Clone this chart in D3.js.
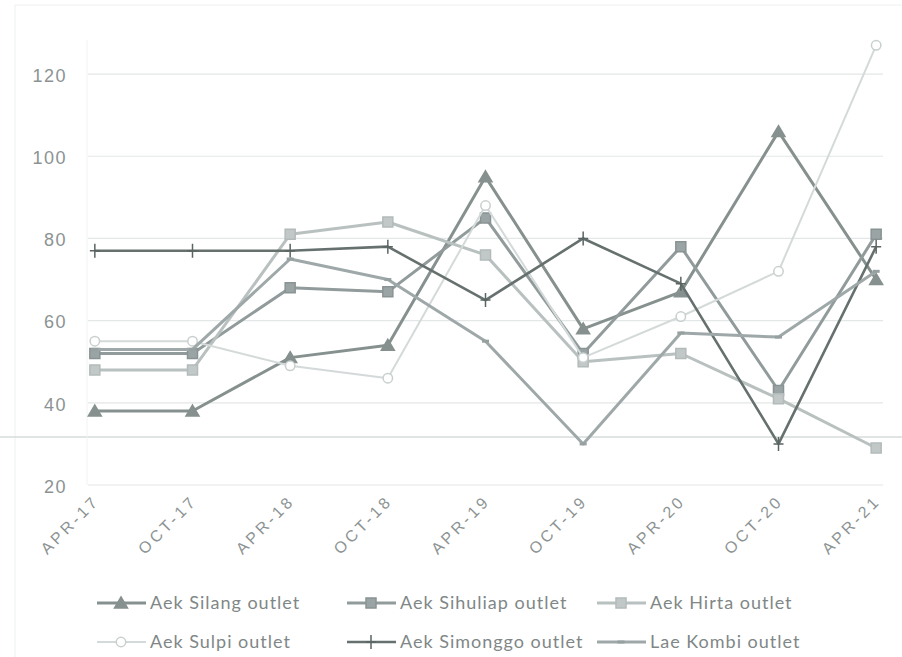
<!DOCTYPE html>
<html>
<head>
<meta charset="utf-8">
<script src="https://cdn.jsdelivr.net/npm/d3@7"></script>
<style>
  html, body { margin: 0; padding: 0; background: #fff; }
  svg { display: block; font-family: Lato, "Open Sans", sans-serif; }
</style>
</head>
<body>
<svg id="chart" width="902" height="657"></svg>
<script>
// Sampling dates
const categories = ["APR-17","OCT-17","APR-18","OCT-18","APR-19","OCT-19","APR-20","OCT-20","APR-21"];

// Measured values per outlet
const aekSilang   = [38, 38, 51, 54, 95, 58, 67, 106, 70];
const aekSihuliap = [52, 52, 68, 67, 85, 52, 78, 43, 81];
const aekHirta    = [48, 48, 81, 84, 76, 50, 52, 41, 29];
const aekSulpi    = [55, 55, 49, 46, 88, 51, 61, 72, 127];
const aekSimonggo = [77, 77, 77, 78, 65, 80, 69, 30, 78];
const laeKombi    = [53, 53, 75, 70, 55, 30, 57, 56, 72];

const yTicks = [20, 40, 60, 80, 100, 120];

const seriesNames = ["Aek Silang outlet","Aek Sihuliap outlet","Aek Hirta outlet",
                     "Aek Sulpi outlet","Aek Simonggo outlet","Lae Kombi outlet"];
const seriesValues = [aekSilang, aekSihuliap, aekHirta, aekSulpi, aekSimonggo, laeKombi];

// Appearance of each series: line colour, width, marker
const styles = [
  { color: "#86918f", width: 3,   marker: "triangle", fill: "#86918f", stroke: "#86918f" },
  { color: "#929b9b", width: 3,   marker: "square",   fill: "#9ba4a4", stroke: "#8a9393" },
  { color: "#b9c0c0", width: 3,   marker: "square",   fill: "#c2c8c8", stroke: "#b3baba" },
  { color: "#d4d9d9", width: 2,   marker: "circle",   fill: "#ffffff", stroke: "#c9cfcf" },
  { color: "#66716f", width: 2.6, marker: "plus",     fill: "none",    stroke: "#5a6563" },
  { color: "#9fa8a8", width: 3,   marker: "dash",     fill: "none",    stroke: "#97a0a0" }
];

const svg = d3.select("#chart");

const x = d3.scalePoint().domain(categories).range([88, 883]).padding(0.07);
const y = d3.scaleLinear().domain([20, 130]).range([485, 33]);

// Faint chart frame edges
svg.append("line").attr("x1", 15).attr("x2", 902).attr("y1", 5).attr("y2", 5)
  .attr("stroke", "#eef0f0").attr("stroke-width", 1);
svg.append("line").attr("x1", 15).attr("x2", 15).attr("y1", 5).attr("y2", 657)
  .attr("stroke", "#eef0f0").attr("stroke-width", 1);

// Horizontal gridlines
svg.append("g")
  .selectAll("line")
  .data(yTicks)
  .join("line")
  .attr("x1", 88).attr("x2", 883)
  .attr("y1", d => y(d)).attr("y2", d => y(d))
  .attr("stroke", "#e4e7e7").attr("stroke-width", 1.2);

// Faint fold line across the sheet
svg.append("line").attr("x1", 0).attr("x2", 902).attr("y1", 437).attr("y2", 437)
  .attr("stroke", "#d6dbdb").attr("stroke-width", 1.3);

// Faint plot-area left edge
svg.append("line").attr("x1", 87).attr("x2", 87).attr("y1", 40).attr("y2", 485)
  .attr("stroke", "#f0f2f2").attr("stroke-width", 1);

// Y axis labels
const yAxis = svg.append("g")
  .attr("transform", "translate(87,0)")
  .call(d3.axisLeft(y).tickValues(yTicks).tickSize(0).tickPadding(20));
yAxis.select(".domain").remove();
yAxis.selectAll("text")
  .attr("fill", "#8c9393")
  .style("font-size", "18px")
  .style("letter-spacing", "1.5px")
  .attr("dy", "0.4em");

// X axis labels, rotated
const xAxis = svg.append("g")
  .attr("transform", "translate(0,485)")
  .call(d3.axisBottom(x).tickSize(0));
xAxis.select(".domain").remove();
xAxis.selectAll("text")
  .attr("fill", "#8c9393")
  .style("font-size", "16px")
  .style("letter-spacing", "3.2px")
  .attr("text-anchor", "end")
  .attr("x", 0).attr("y", 0).attr("dy", 0)
  .attr("transform", "translate(5,17) rotate(-45)");

// Marker shapes
function markerPath(kind) {
  switch (kind) {
    case "triangle": return "M0,-6L6.5,5L-6.5,5Z";
    case "square":   return "M-5,-5H5V5H-5Z";
    case "circle":   return d3.symbol(d3.symbolCircle, 70)();
    case "plus":     return "M-5,0H5M0,-7V7";
    case "dash":     return "M-3.5,0H3.5";
  }
}

const line = d3.line()
  .x((d, i) => x(categories[i]))
  .y(d => y(d));

const plot = svg.append("g");
seriesValues.forEach((vals, s) => {
  const st = styles[s];
  const g = plot.append("g");
  g.append("path")
    .datum(vals)
    .attr("d", line)
    .attr("fill", "none")
    .attr("stroke", st.color)
    .attr("stroke-width", st.width)
    .attr("stroke-linejoin", "round");
  g.selectAll("path.mk")
    .data(vals)
    .join("path")
    .attr("class", "mk")
    .attr("transform", (d, i) => `translate(${x(categories[i])},${y(d)})`)
    .attr("d", markerPath(st.marker))
    .attr("fill", st.fill)
    .attr("stroke", st.stroke)
    .attr("stroke-width", st.marker === "dash" ? 3 : 1.5);
});

// Legend: three columns, two rows
const legendCols = [97, 347, 597];
const legendRows = [603, 642];
const legend = svg.append("g");
seriesNames.forEach((name, s) => {
  const st = styles[s];
  const lx = legendCols[s % 3];
  const ly = legendRows[Math.floor(s / 3)];
  const g = legend.append("g").attr("transform", `translate(${lx},${ly})`);
  g.append("line")
    .attr("x1", 0).attr("x2", 49).attr("y1", 0).attr("y2", 0)
    .attr("stroke", st.color).attr("stroke-width", st.width);
  g.append("path")
    .attr("transform", "translate(24,0)")
    .attr("d", markerPath(st.marker))
    .attr("fill", st.fill)
    .attr("stroke", st.stroke)
    .attr("stroke-width", st.marker === "dash" ? 3 : 1.5);
  g.append("text")
    .attr("x", 53).attr("y", 0).attr("dy", "0.35em")
    .attr("fill", "#7f8787")
    .style("font-size", "18px")
    .style("letter-spacing", "1px")
    .text(name);
});
</script>
</body>
</html>
